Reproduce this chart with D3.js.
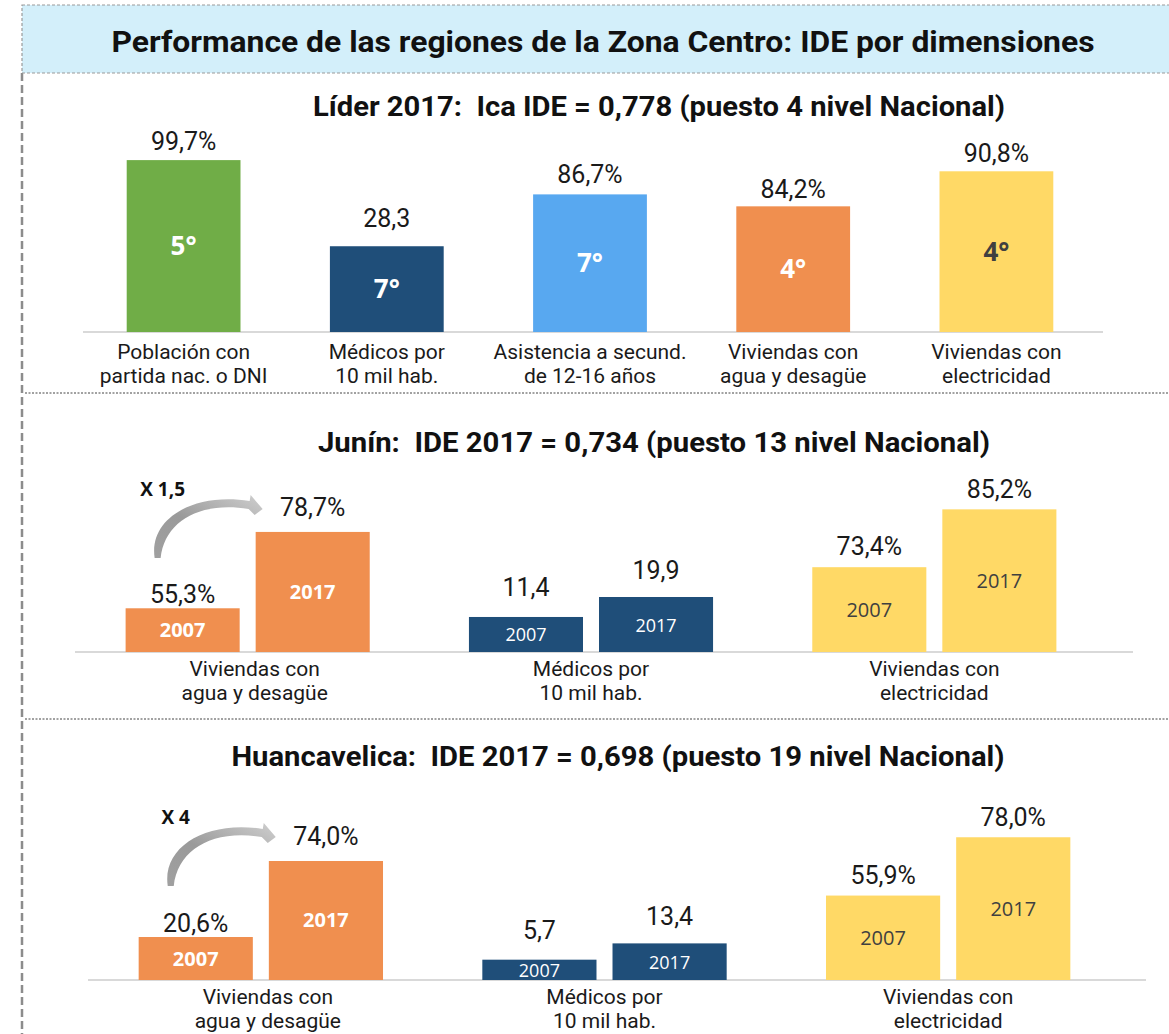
<!DOCTYPE html>
<html>
<head>
<meta charset="utf-8">
<script src="https://cdn.jsdelivr.net/npm/d3@7"></script>
<style>
  body { margin: 0; background: #fff; }
  text { font-family: Roboto, "Open Sans", sans-serif; white-space: pre; }
</style>
</head>
<body>
<svg width="1169" height="1034"></svg>
<script>
// ---- data ----
var mainTitle = 'Performance de las regiones de la Zona Centro: IDE por dimensiones';

var icaTitle = 'Líder 2017:  Ica IDE = 0,778 (puesto 4 nivel Nacional)';
var icaCategories = ['Población con\npartida nac. o DNI', 'Médicos por\n10 mil hab.', 'Asistencia a secund.\nde 12-16 años', 'Viviendas con\nagua y desagüe', 'Viviendas con\nelectricidad'];
var icaValues = [99.7, 28.3, 86.7, 84.2, 90.8];
var icaIsPercent = [true, false, true, true, true];
var icaRanks = ['5°', '7°', '7°', '4°', '4°'];
// each bar comes from its own chart, so each has its own axis maximum
var icaAxisMax = [116, 66, 126, 134, 113];

var years = ['2007', '2017'];
var compCategories = ['Viviendas con\nagua y desagüe', 'Médicos por\n10 mil hab.', 'Viviendas con\nelectricidad'];
var compIsPercent = [true, false, true];

var juninTitle = 'Junín:  IDE 2017 = 0,734 (puesto 13 nivel Nacional)';
var junin2007 = [55.3, 11.4, 73.4];
var junin2017 = [78.7, 19.9, 85.2];
var juninAxis = [[41.9, 103.2], [-3.5, 81.6], [56.1, 96.9]];
var juninGrowth = 'X 1,5';

var huancaTitle = 'Huancavelica:  IDE 2017 = 0,698 (puesto 19 nivel Nacional)';
var huanca2007 = [20.6, 5.7, 55.9];
var huanca2017 = [74.0, 13.4, 78.0];
var huancaAxis = [[-9.6, 130.9], [-3.9, 90.6], [23.9, 99.7]];
var huancaGrowth = 'X 4';

// ---- helpers ----
var loc = d3.formatLocale({decimal: ',', thousands: '.', grouping: [3], currency: ['', '']});
var fmt = loc.format('.1f');
function label(v, pct) { return fmt(v) + (pct ? '%' : ''); }

var svg = d3.select('svg');
var PLOT_H = 200;

function multiline(sel, txt, x, y, lh) {
  var t = sel.append('text')
    .attr('x', x).attr('y', y)
    .attr('text-anchor', 'middle')
    .attr('font-size', 21)
    .attr('fill', '#1a1a1a');
  txt.split('\n').forEach(function (line, i) {
    t.append('tspan').attr('x', x).attr('y', y + i * lh).text(line);
  });
}

function heading(txt, cx, y, size, len) {
  svg.append('text')
    .attr('x', cx).attr('y', y)
    .attr('text-anchor', 'middle')
    .attr('font-size', size)
    .attr('font-weight', 'bold')
    .attr('fill', '#111')
    .attr('textLength', len)
    .attr('lengthAdjust', 'spacingAndGlyphs')
    .text(txt);
}

// ---- frame ----
svg.append('line')
  .attr('x1', 22).attr('x2', 22).attr('y1', 73).attr('y2', 1034)
  .attr('stroke', '#8c8c8c').attr('stroke-width', 2.5)
  .attr('stroke-dasharray', '8,4');

svg.append('rect')
  .attr('x', 22).attr('y', 5).attr('width', 1160).attr('height', 68)
  .attr('fill', '#d3effa')
  .attr('stroke', '#9a9a9a').attr('stroke-width', 1.2)
  .attr('stroke-dasharray', '3,2');

heading(mainTitle, 603, 52, 30, 983);

[393, 719].forEach(function (y) {
  svg.append('line')
    .attr('x1', 25).attr('x2', 1169).attr('y1', y).attr('y2', y)
    .attr('stroke', '#444').attr('stroke-width', 1)
    .attr('stroke-dasharray', '2,1.5');
});

// gradient for growth arrows
var defs = svg.append('defs');
var grad = defs.append('linearGradient').attr('id', 'arrowGrad')
  .attr('x1', '0%').attr('y1', '100%').attr('x2', '100%').attr('y2', '0%');
grad.append('stop').attr('offset', '0%').attr('stop-color', '#a0a0a0');
grad.append('stop').attr('offset', '45%').attr('stop-color', '#9a9a9a');
grad.append('stop').attr('offset', '100%').attr('stop-color', '#cfcfcf');

// ---- panel 1: Ica ----
(function () {
  var base = 332;
  var colors = ['#70ad47', '#1f4e79', '#58a8f0', '#f08f4f', '#ffd966'];
  var rankColor = ['#fff', '#fff', '#fff', '#fff', '#404040'];
  var labelGap = [10, 19, 11, 8, 9];

  heading(icaTitle, 659, 116, 27, 692);

  var x = d3.scaleBand()
    .domain(d3.range(icaValues.length))
    .range([82, 1098])
    .paddingInner(0.44)
    .paddingOuter(0.22);

  svg.append('line')
    .attr('x1', 83).attr('x2', 1103).attr('y1', base).attr('y2', base)
    .attr('stroke', '#d9d9d9').attr('stroke-width', 2);

  icaValues.forEach(function (v, i) {
    var y = d3.scaleLinear().domain([0, icaAxisMax[i]]).range([base, base - PLOT_H]);
    var cx = x(i) + x.bandwidth() / 2;
    svg.append('rect')
      .attr('x', x(i)).attr('width', x.bandwidth())
      .attr('y', y(v)).attr('height', base - y(v))
      .attr('fill', colors[i]);
    svg.append('text')
      .attr('x', cx).attr('y', y(v) - labelGap[i])
      .attr('text-anchor', 'middle')
      .attr('font-size', 25).attr('fill', '#1a1a1a')
      .text(label(v, icaIsPercent[i]));
    svg.append('text')
      .attr('x', cx).attr('y', (y(v) + base) / 2 + 9)
      .attr('text-anchor', 'middle')
      .style('font-family', '"Open Sans", sans-serif')
      .attr('font-size', 26).attr('font-weight', 'bold')
      .attr('fill', rankColor[i])
      .text(icaRanks[i]);
    multiline(svg, icaCategories[i], cx, base + 27, 24);
  });
})();

// ---- panels 2 & 3: 2007 vs 2017 ----
function drawCompare(cfg) {
  var colors = ['#f08f4f', '#1f4e79', '#ffd966'];
  var yearColor = ['#fff', '#fff', '#404040'];
  var yearWeight = ['bold', 'normal', 'normal'];
  var yearSize = [20, 18, 20];
  var labelGap = [[5, 16], [21, 18], [12, 11]];
  var base = cfg.base;

  heading(cfg.title, cfg.titleX, cfg.titleY, 27, cfg.titleLen);

  var x0 = d3.scaleBand()
    .domain(d3.range(compCategories.length))
    .range(cfg.range)
    .paddingInner(0.289)
    .paddingOuter(0.1445);
  var x1 = d3.scaleBand()
    .domain(years)
    .range([0, x0.bandwidth()])
    .paddingInner(0.123);

  svg.append('line')
    .attr('x1', cfg.axis[0]).attr('x2', cfg.axis[1]).attr('y1', base).attr('y2', base)
    .attr('stroke', '#d9d9d9').attr('stroke-width', 2);

  compCategories.forEach(function (cat, i) {
    var y = d3.scaleLinear().domain(cfg.axisDomain[i]).range([base, base - PLOT_H]);
    var vals = [cfg.v2007[i], cfg.v2017[i]];
    years.forEach(function (yr, j) {
      var v = vals[j];
      var bx = x0(i) + x1(yr);
      var cx = bx + x1.bandwidth() / 2;
      svg.append('rect')
        .attr('x', bx).attr('width', x1.bandwidth())
        .attr('y', y(v)).attr('height', base - y(v))
        .attr('fill', colors[i]);
      svg.append('text')
        .attr('x', cx).attr('y', y(v) - labelGap[i][j])
        .attr('text-anchor', 'middle')
        .attr('font-size', 25).attr('fill', '#1a1a1a')
        .text(label(v, compIsPercent[i]));
      svg.append('text')
        .attr('x', cx).attr('y', (y(v) + base) / 2 + 7)
        .attr('text-anchor', 'middle')
        .style('font-family', '"Open Sans", sans-serif')
        .attr('font-size', yearSize[i]).attr('font-weight', yearWeight[i])
        .attr('fill', yearColor[i])
        .text(yr);
    });
    multiline(svg, cat, x0(i) + x0.bandwidth() / 2 + (i === 0 ? 7 : 0), base + 24, 24);

    if (i === 0) {
      // curved growth arrow from the 2007 bar towards the 2017 value
      var tx = x0(i) + x1('2007') + x1.bandwidth() / 2 - 28;
      var ty = base - 94;
      var g = svg.append('g').attr('transform', 'translate(' + tx + ',' + ty + ')');
      g.append('path')
        .attr('d', 'M0,0 C-6,-40 40,-66 95,-57 L96,-63 L108,-49 L100,-43 L94,-49 C44,-57 10,-36 6,0 Z')
        .attr('fill', 'url(#arrowGrad)');
      g.append('text')
        .attr('x', 8).attr('y', -62)
        .attr('text-anchor', 'middle')
        .style('font-family', '"Open Sans", sans-serif')
        .attr('font-size', 19).attr('font-weight', 'bold')
        .attr('fill', '#111')
        .text(cfg.growth);
    }
  });
}

drawCompare({
  title: juninTitle, titleX: 654, titleY: 452, titleLen: 672,
  base: 652, range: [76, 1106], axis: [75, 1133],
  v2007: junin2007, v2017: junin2017, axisDomain: juninAxis, growth: juninGrowth
});

drawCompare({
  title: huancaTitle, titleX: 618, titleY: 766, titleLen: 773,
  base: 980, range: [89, 1120], axis: [88, 1146],
  v2007: huanca2007, v2017: huanca2017, axisDomain: huancaAxis, growth: huancaGrowth
});
</script>
</body>
</html>
